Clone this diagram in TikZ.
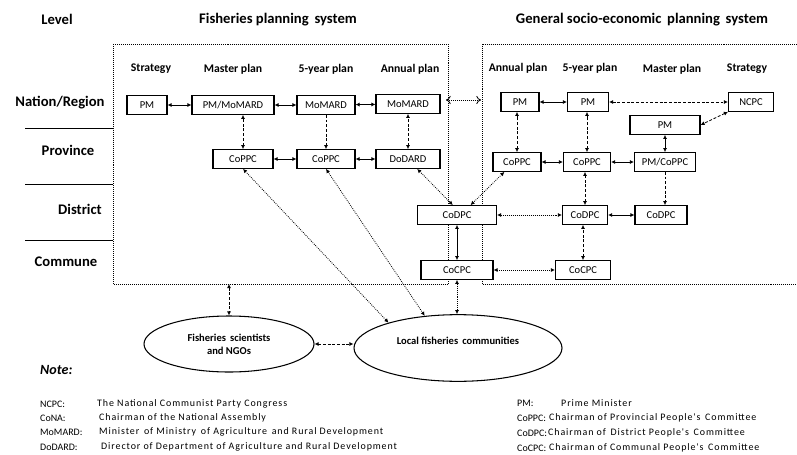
\documentclass[tikz,border=0pt]{standalone}
\usepackage{fontspec}
\setmainfont{Carlito}
\newfontfamily\notefont[LetterSpace=9]{Carlito}
\usepackage{tikz}
\usetikzlibrary{arrows.meta}
\usetikzlibrary{shapes.geometric}

\begin{document}
\begin{tikzpicture}
		[x=0.03cm,y=-0.03cm,
		box/.style={draw,line width=0.9pt,fill=white,minimum height=0.56cm,inner sep=1pt,font=\fontsize{9}{10}\selectfont},
		bubble/.style={ellipse,draw,line width=0.9pt,fill=white,inner sep=0pt,align=center,font=\fontsize{9}{11}\selectfont\bfseries},
		lvl/.style={font=\fontsize{12.5}{14}\selectfont\bfseries},
		hdr/.style={font=\fontsize{10}{12}\selectfont\bfseries},
		note/.style={anchor=west,inner sep=0pt,font=\fontsize{8.5}{10}\selectfont},
		notetxt/.style={anchor=west,inner sep=0pt,font=\notefont\fontsize{8.5}{10}\selectfont},
		frame/.style={densely dotted,line width=0.7pt},
		dsh/.style={dash pattern=on 2.5pt off 1.5pt},
		tw/.style={{Latex[length=3.5pt,width=3.5pt]}-{Latex[length=3.5pt,width=3.5pt]},line width=0.7pt},
		one/.style={-{Latex[length=3.5pt,width=3.5pt]},line width=0.7pt}]
		\useasboundingbox (0,0) rectangle (797,454);
		
		\node[lvl] (level) at (57,19) {Level};
		\node[lvl] (ftitle) at (278,20) {Fisheries planning\, system};
		\node[lvl] (gtitle) at (642,20) {General socio-economic\, planning\, system};
		
		\node[lvl] (nation) at (60,103) {Nation/Region};
		\node[lvl] (province) at (68,150) {Province};
		\node[lvl] (district) at (80,209) {District};
		\node[lvl] (commune) at (66,262) {Commune};
		\draw[line width=0.7pt] (25,128) -- (113,128);
		\draw[line width=0.7pt] (25,184) -- (113,184);
		\draw[line width=0.7pt] (25,240) -- (113,240);
		
		\draw[frame] (113,44) rectangle (448,284);
		\draw[frame] (797,44) -- (482,44) -- (482,284) -- (797,284);
		
		\node[hdr] (fh1) at (151,69) {Strategy};
		\node[hdr] (fh2) at (233,69) {Master plan};
		\node[hdr] (fh3) at (326,69) {5-year plan};
		\node[hdr] (fh4) at (410,69) {Annual plan};
		\node[hdr] (gh1) at (518,68) {Annual plan};
		\node[hdr] (gh2) at (590,68) {5-year plan};
		\node[hdr] (gh3) at (672,69) {Master plan};
		\node[hdr] (gh4) at (747,69) {Strategy};
		
		\node[box,minimum width=1.2cm] (fpm) at (147,105) {PM};
		\node[box,minimum width=2.46cm] (fmaster) at (233,105) {PM/MoMARD};
		\node[box,minimum width=1.74cm] (ffive) at (326,105) {MoMARD};
		\node[box,minimum width=1.92cm] (fannual) at (408,104) {MoMARD};
		\node[box,minimum width=1.8cm] (fcoppcA) at (243,159) {CoPPC};
		\node[box,minimum width=1.74cm] (fcoppcB) at (326,159) {CoPPC};
		\node[box,minimum width=1.92cm] (fdodard) at (408,159) {DoDARD};
		
		\node[box,minimum width=1.14cm] (gpmA) at (520,102) {PM};
		\node[box,minimum width=1.23cm] (gpmB) at (588,102) {PM};
		\node[box,minimum width=1.35cm] (gncpc) at (751,102) {NCPC};
		\node[box,minimum width=2.1cm] (gpmC) at (665,125) {PM};
		\node[box,minimum width=1.44cm] (gcoppcA) at (517,162) {CoPPC};
		\node[box,minimum width=1.41cm] (gcoppcB) at (587,162) {CoPPC};
		\node[box,minimum width=1.83cm] (gpmcoppc) at (665,162) {PM/CoPPC};
		
		\node[box,minimum width=2.37cm] (codpcA) at (457,215) {CoDPC};
		\node[box,minimum width=1.35cm] (codpcB) at (585,215) {CoDPC};
		\node[box,minimum width=1.56cm] (codpcC) at (661,215) {CoDPC};
		\node[box,minimum width=2.16cm] (cocpcA) at (457,270) {CoCPC};
		\node[box,minimum width=1.65cm] (cocpcB) at (583,270) {CoCPC};
		
		\node[bubble,minimum width=5.1cm,minimum height=1.68cm] (sci) at (229,344) {Fisheries\, scientists\\and NGOs};
		\node[bubble,minimum width=6.24cm,minimum height=2cm] (local) at (458,348) {Local fisheries\, communities\\[1pt]};
		
		\coordinate (fbot) at (229,284);
		\coordinate (fsys) at (446,100);
		\coordinate (gsys) at (481,100);
		
		\foreach \from/\to in 
		{fpm/fmaster, fmaster/ffive, ffive/fannual, fcoppcA/fcoppcB, fcoppcB/fdodard, gpmA/gpmB, gcoppcA/gcoppcB, gcoppcB/gpmcoppc, codpcB/codpcC, codpcA/cocpcA, gpmC/gpmcoppc}
		\draw[tw] (\from) -- (\to);
		
		\foreach \from/\to in 
		{fmaster/fcoppcA, fannual/fdodard, gpmA/gcoppcA, gpmB/gcoppcB, gcoppcB/codpcB, codpcB/cocpcB}
		\draw[tw,dsh] (\to.north) -- (\to.north |- \from.south);
		
		\foreach \from/\to in {ffive/fcoppcB, gpmcoppc/codpcC}
		\draw[one,dsh] (\from.south) -- (\from.south |- \to.north);
		
		\draw[tw,dsh] (gpmB) -- (gncpc);
		\draw[tw,dsh] (gncpc.south west) -- (gpmC.east);
		\draw[tw,dsh] (fbot) -- (sci.north);
		\draw[tw,dsh] (sci.east) -- (sci.east -| local.west);
		
		\foreach \from/\to in 
		{codpcA/codpcB, cocpcA/cocpcB, fcoppcA.south/local.160, fcoppcB.south/local.136, fdodard.313/codpcA.113, gcoppcA.218/codpcA.36}
		\draw[tw,densely dotted] (\from) -- (\to);
		\draw[tw,densely dotted] (cocpcA.south) -- (cocpcA.south |- local.north);
		\draw[densely dotted,line width=0.7pt,{To[length=4pt,width=7pt]}-{To[length=4pt,width=7pt]}] (fsys) -- (gsys);
		
		\node[anchor=west,inner sep=0pt,font=\fontsize{12}{14}\selectfont\bfseries\itshape] (notes) at (40,370) {Note:};
		\node[note] (n1) at (40,404) {NCPC:};
		\node[notetxt] (n1t) at (97,404) {The National Communist Party Congress};
		\node[note] (n2) at (40,418) {CoNA:};
		\node[notetxt] (n2t) at (99,418) {Chairman of the National Assembly};
		\node[note] (n3) at (40,432) {MoMARD:};
		\node[notetxt] (n3t) at (99,432) {Minister\, of Ministry\, of Agriculture\, and Rural Development};
		\node[note] (n4) at (40,447) {DoDARD:};
		\node[notetxt] (n4t) at (101,447) {Director of Department of Agriculture and Rural Development};
		\node[note] (p1) at (517,403) {PM:};
		\node[notetxt] (p1t) at (561,403) {Prime Minister};
		\node[note] (p2) at (517,418) {CoPPC:};
		\node[notetxt] (p2t) at (549,418) {Chairman of Provincial People's\, Committee};
		\node[note] (p3) at (517,433) {CoDPC:};
		\node[notetxt] (p3t) at (548,433) {Chairman of\, District People's\, Committee};
		\node[note] (p4) at (517,448) {CoCPC:};
		\node[notetxt] (p4t) at (549,448) {Chairman of Communal People's\, Committee};
		\end{tikzpicture}
\end{document}
